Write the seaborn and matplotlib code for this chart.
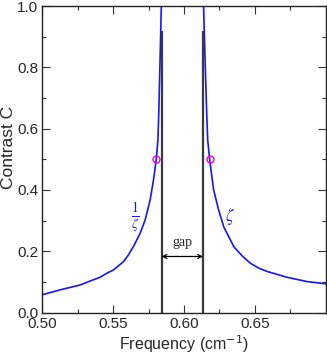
import numpy as np
import pandas as pd
import matplotlib
matplotlib.use("Agg")
import matplotlib.pyplot as plt
import seaborn as sns
from matplotlib.ticker import MultipleLocator

# contrast below the gap (C = 1/zeta)
f_low = [0.5000, 0.5125, 0.5267, 0.5361, 0.5408, 0.5455, 0.5502, 0.5573, 0.5608,
         0.5643, 0.5691, 0.5726, 0.5761, 0.5785, 0.5804, 0.5816, 0.5822, 0.5830, 0.5840]
c_low = [0.058, 0.074, 0.090, 0.107, 0.115, 0.128, 0.139, 0.166, 0.188,
         0.215, 0.259, 0.302, 0.367, 0.433, 0.498, 0.563, 0.650, 0.800, 1.000]

# contrast above the gap (C = zeta)
f_high = [0.6138, 0.6150, 0.6160, 0.6167, 0.6181, 0.6209, 0.6244, 0.6280, 0.6315,
          0.6351, 0.6410, 0.6468, 0.6527, 0.6587, 0.6728, 0.6869, 0.7000]
c_high = [1.000, 0.800, 0.650, 0.563, 0.498, 0.400, 0.335, 0.280, 0.248,
          0.215, 0.185, 0.161, 0.145, 0.134, 0.115, 0.101, 0.094]

# band edges and half-contrast points
edges = [0.5842, 0.6134]
edge_top = 0.92
half_f = [0.5804, 0.6181]
half_c = [0.5, 0.5]
arrow_c = 0.183

sns.set_theme(style="ticks")
plt.rcParams["font.family"] = ["Liberation Sans", "DejaVu Sans"]

fig = plt.figure(figsize=(3.27, 3.54), dpi=100)
ax = fig.add_axes([0.129, 0.117, 0.867, 0.866])

low = pd.DataFrame({"f": f_low, "C": c_low})
high = pd.DataFrame({"f": f_high, "C": c_high})
sns.lineplot(data=low, x="f", y="C", ax=ax, color="#1515ff", lw=1.2)
sns.lineplot(data=high, x="f", y="C", ax=ax, color="#1515ff", lw=1.2)

ax.vlines(edges, 0, edge_top, color="#3a3a3a", lw=1.6)
ax.plot(half_f, half_c, "o", mfc="none", mec="#ee00ee", ms=5, mew=1)

ax.annotate("", xy=(edges[0], arrow_c), xytext=(edges[1], arrow_c),
            arrowprops=dict(arrowstyle="<->", color="black", lw=0.9,
                            shrinkA=0, shrinkB=0, mutation_scale=7))
ax.text(0.5986, 0.228, "gap", ha="center", va="center", fontsize=10,
        family="Liberation Serif")
ax.text(0.5655, 0.313, r"$\frac{1}{\zeta}$", ha="center", va="center",
        fontsize=14, color="#1515ff", math_fontfamily="stix")
ax.text(0.6327, 0.313, r"$\zeta$", ha="center", va="center",
        fontsize=12, color="#1515ff", math_fontfamily="stix")

ax.set_xlim(0.5, 0.6999)
ax.set_ylim(0, 1.0)
ax.xaxis.set_major_locator(MultipleLocator(0.05))
ax.xaxis.set_minor_locator(MultipleLocator(0.025))
ax.yaxis.set_major_locator(MultipleLocator(0.2))
ax.yaxis.set_minor_locator(MultipleLocator(0.1))
ax.xaxis.set_major_formatter(lambda v, p: f"{v:.2f}")
ax.yaxis.set_major_formatter(lambda v, p: f"{v:.1f}")
ax.tick_params(which="both", direction="in", top=True, right=True,
               labelsize=11, color="#333333", width=0.8, pad=3)
ax.tick_params(which="major", length=6)
ax.tick_params(which="minor", length=3)
for s in ax.spines.values():
    s.set_color("#222222")
    s.set_linewidth(1.0)

ax.set_xlabel(r"Frequency (cm$^{-1}$)", fontsize=11.5, labelpad=2)
ax.set_ylabel("Contrast C", fontsize=12.5)
ax.yaxis.set_label_coords(-0.093, 0.54)

fig.savefig("out.png", dpi=100)
